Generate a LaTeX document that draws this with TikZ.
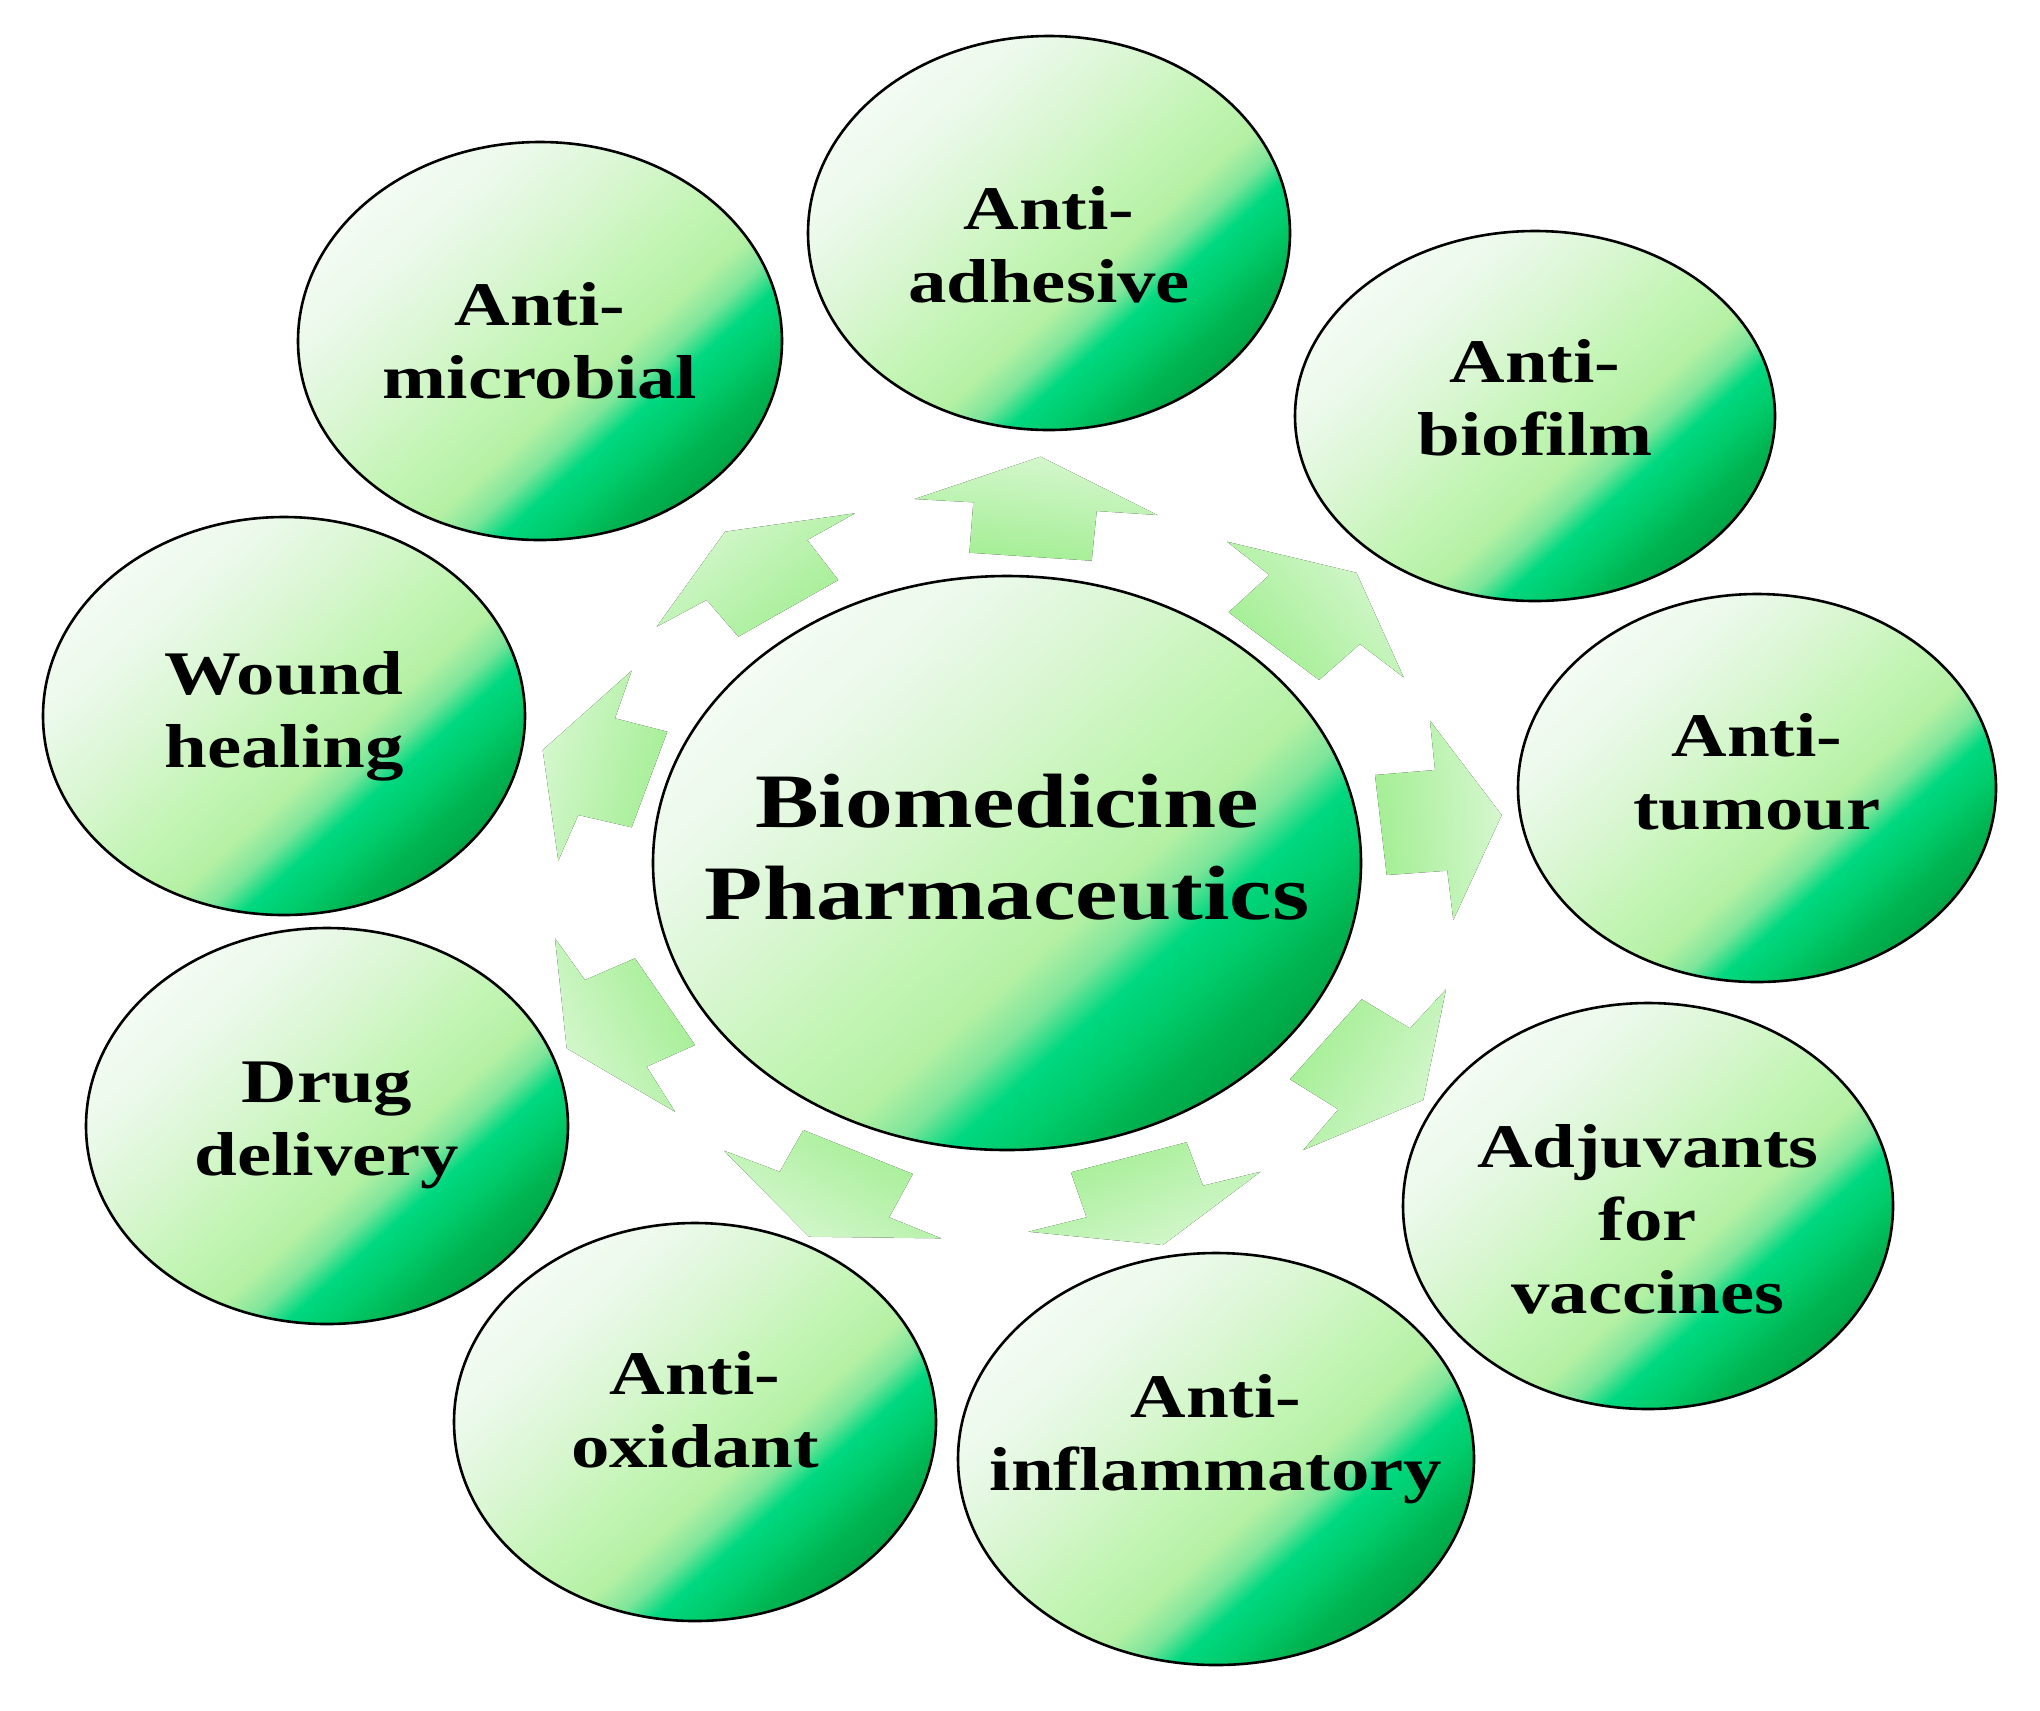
\documentclass[tikz,border=0pt]{standalone}
\usepackage{fontspec}
\setmainfont{Liberation Serif}
\usepackage{graphicx}
\usetikzlibrary{shapes.geometric}

\definecolor{g0}{HTML}{F4FBF4}
\definecolor{g1}{HTML}{EAF9E9}
\definecolor{g2}{HTML}{D8F6D0}
\definecolor{g3}{HTML}{C4F5B6}
\definecolor{g4}{HTML}{B4F0A4}
\definecolor{g5}{HTML}{7DE59A}
\definecolor{g6}{HTML}{00D880}
\definecolor{g7}{HTML}{00CC6C}
\definecolor{g8}{HTML}{00B552}
\definecolor{g9}{HTML}{00A040}
\definecolor{adark}{HTML}{A2EE92}
\definecolor{alight}{HTML}{D6F7CF}

\pgfdeclarehorizontalshading{gloss}{100bp}{color(0bp)=(g0); color(25bp)=(g0); color(33bp)=(g1); color(42bp)=(g2); color(50bp)=(g3); color(57bp)=(g4); color(60.5bp)=(g5); color(63.5bp)=(g6); color(67bp)=(g7); color(71bp)=(g8); color(76bp)=(g9); color(100bp)=(g9)}

\newcommand\wtxt[1]{\scalebox{1.24}[1]{\begin{tabular}{@{}c@{}}#1\end{tabular}}}

\tikzset{
  blob/.style 2 args={ellipse, draw=black, line width=1.3pt, inner sep=0pt,
    minimum width=#1pt, minimum height=#2pt, shade, shading=gloss, shading angle=-48},
  lbl/.style={font=\fontsize{31}{36.5}\selectfont\bfseries, inner sep=0pt, text=black},
  clbl/.style={font=\fontsize{38.5}{46}\selectfont\bfseries, inner sep=0pt, text=black},
  barrow/.style={draw=none, top color=alight, bottom color=adark, shading angle=#1}
}

\begin{document}
\begin{tikzpicture}[x=0.5pt, y=-0.5pt]
\path[use as bounding box, fill=white] (0,0) rectangle (2040,1710);

% block arrows (head lighter than tail)
\fill[barrow=39] (725,531.7) -- (855,513.3) -- (807.3,540) -- (838.3,580) -- (738.3,636.7) -- (706.7,600) -- (656.7,626.7) -- cycle;
\fill[barrow=-6] (1040.5,456.7) -- (1157.4,515) -- (1096.7,511) -- (1091.7,560.7) -- (969.4,552.7) -- (973.3,502.3) -- (914.6,499) -- cycle;
\fill[barrow=-48] (1356.4,572.7) -- (1403.7,677.3) -- (1359.9,644) -- (1319.1,680) -- (1228.6,612.3) -- (1269.4,575) -- (1227,541.7) -- cycle;
\fill[barrow=75] (542.7,750) -- (631.7,670.7) -- (615,718.3) -- (667.3,731.7) -- (631.7,827.3) -- (578.3,815) -- (558.3,860.7) -- cycle;
\fill[barrow=116] (566.7,1048.3) -- (555,938.3) -- (585,980) -- (635,958.3) -- (695,1045) -- (646.7,1066.7) -- (675,1111.7) -- cycle;
\fill[barrow=-85] (1501.7,815) -- (1453.3,920) -- (1447.3,870.7) -- (1386.7,875) -- (1375,775) -- (1435,770) -- (1430,720.7) -- cycle;
\fill[barrow=-122] (1423.3,1100) -- (1303.3,1150) -- (1338.3,1109.3) -- (1290,1079.3) -- (1361.7,999.3) -- (1410,1028.3) -- (1446,989.3) -- cycle;
\fill[barrow=150] (809,1236.7) -- (941.1,1238.3) -- (889.2,1217.3) -- (912.8,1174) -- (803.3,1130) -- (779.7,1171.7) -- (724,1150.7) -- cycle;
\fill[barrow=-159] (1162.9,1245) -- (1260.6,1171.7) -- (1203,1185.7) -- (1186.5,1142.3) -- (1070.9,1172.3) -- (1086.5,1217.3) -- (1028.4,1231.7) -- cycle;

% ellipses
\node[blob={242}{199}] (am) at (540,341) {};
\node[blob={241}{197}] (aa) at (1049,233) {};
\node[blob={240}{185}] (ab) at (1535,416) {};
\node[blob={239}{194}] (at) at (1757,788) {};
\node[blob={245}{203}] (av) at (1648,1206) {};
\node[blob={258}{206}] (ai) at (1216,1459) {};
\node[blob={241}{199}] (ao) at (695,1422) {};
\node[blob={241}{198}] (dd) at (327,1126) {};
\node[blob={241}{199}] (wh) at (284,716) {};
\node[blob={354}{287}] (cc) at (1007,863) {};

% labels
\node[lbl, yshift=-3pt] (tam) at (am) {\wtxt{Anti-\\microbial}};
\node[lbl, yshift=-9pt] (taa) at (aa) {\wtxt{Anti-\\adhesive}};
\node[lbl, yshift=6pt] (tab) at (ab) {\wtxt{Anti-\\biofilm}};
\node[lbl, yshift=5pt] (tat) at (at) {\wtxt{Anti-\\tumour}};
\node[lbl, yshift=-10pt] (tav) at (av) {\wtxt{Adjuvants\\for\\vaccines}};
\node[lbl, yshift=10pt] (tai) at (ai) {\wtxt{Anti-\\inflammatory}};
\node[lbl, yshift=3pt] (tao) at (ao) {\wtxt{Anti-\\oxidant}};
\node[lbl, yshift=1pt] (tdd) at (dd) {\wtxt{Drug\\delivery}};
\node[lbl] (twh) at (wh) {\wtxt{Wound\\healing}};
\node[clbl, yshift=4pt] (tcc) at (cc) {\wtxt{Biomedicine\\Pharmaceutics}};
\end{tikzpicture}
\end{document}
